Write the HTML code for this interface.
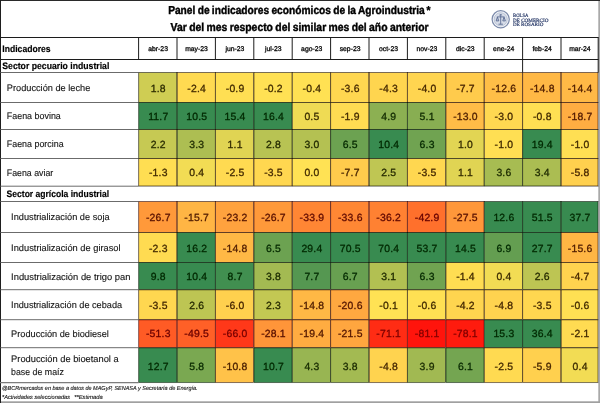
<!DOCTYPE html>
<html lang="es"><head><meta charset="utf-8">
<title>Panel de indicadores económicos de la Agroindustria</title>
<style>
html,body{margin:0;padding:0;background:#fff;}
body{width:600px;height:403px;overflow:hidden;}
svg{display:block;}
text{font-family:"Liberation Sans",sans-serif;text-rendering:geometricPrecision;}
.t{font-weight:bold;font-size:11.5px;fill:#000;text-anchor:middle;stroke:#000;stroke-width:.4px;word-spacing:-.6px;}
.m{font-size:6.8px;fill:#0a0a0a;text-anchor:middle;stroke:#0a0a0a;stroke-width:.3px;}
.n{font-size:10.4px;letter-spacing:.2px;text-anchor:middle;stroke-width:.3px;}
.l{font-size:9.3px;fill:#141414;stroke:#141414;stroke-width:.12px;}
.b{font-size:9.4px;font-weight:bold;fill:#000;stroke:#000;stroke-width:.16px;}
.f{font-size:5.8px;font-style:italic;fill:#151515;stroke:#151515;stroke-width:.12px;}
.g{font-family:"Liberation Serif",serif;font-size:5px;fill:#2c3d6b;stroke:#2c3d6b;stroke-width:.2px;}
</style></head><body>
<svg width="600" height="403" viewBox="0 0 600 403">
<rect x="0" y="0" width="600" height="403" fill="#ffffff"/>
<rect x="138.82" y="72.72" width="37.96" height="29.56" fill="#cfcd53" stroke="#242300" stroke-width="0.44"/>
<rect x="177.22" y="72.72" width="37.96" height="29.56" fill="#ffda51" stroke="#3b1f00" stroke-width="0.44"/>
<rect x="215.62" y="72.72" width="37.96" height="29.56" fill="#ffdf53" stroke="#392100" stroke-width="0.44"/>
<rect x="254.02" y="72.72" width="37.96" height="29.56" fill="#ffe154" stroke="#382200" stroke-width="0.44"/>
<rect x="292.42" y="72.72" width="37.96" height="29.56" fill="#ffe153" stroke="#382200" stroke-width="0.44"/>
<rect x="330.82" y="72.72" width="37.96" height="29.56" fill="#ffd750" stroke="#3c1e00" stroke-width="0.44"/>
<rect x="369.22" y="72.72" width="37.96" height="29.56" fill="#ffd54f" stroke="#3d1d00" stroke-width="0.44"/>
<rect x="407.62" y="72.72" width="37.96" height="29.56" fill="#ffd550" stroke="#3d1d00" stroke-width="0.44"/>
<rect x="446.02" y="72.72" width="37.96" height="29.56" fill="#ffcb4c" stroke="#411a00" stroke-width="0.44"/>
<rect x="484.42" y="72.72" width="37.96" height="29.56" fill="#ffbe47" stroke="#461500" stroke-width="0.44"/>
<rect x="522.82" y="72.72" width="37.96" height="29.56" fill="#ffb845" stroke="#481300" stroke-width="0.44"/>
<rect x="561.22" y="72.72" width="36.76" height="29.56" fill="#ffb946" stroke="#481300" stroke-width="0.44"/>
<rect x="138.82" y="102.72" width="37.96" height="26.56" fill="#388b50" stroke="#002600" stroke-width="0.44"/>
<rect x="177.22" y="102.72" width="37.96" height="26.56" fill="#388b50" stroke="#002600" stroke-width="0.44"/>
<rect x="215.62" y="102.72" width="37.96" height="26.56" fill="#388b50" stroke="#002600" stroke-width="0.44"/>
<rect x="254.02" y="102.72" width="37.96" height="26.56" fill="#388b50" stroke="#002600" stroke-width="0.44"/>
<rect x="292.42" y="102.72" width="37.96" height="26.56" fill="#efdb54" stroke="#312200" stroke-width="0.44"/>
<rect x="330.82" y="102.72" width="37.96" height="26.56" fill="#ffdc52" stroke="#3a2000" stroke-width="0.44"/>
<rect x="369.22" y="102.72" width="37.96" height="26.56" fill="#8cb052" stroke="#092400" stroke-width="0.44"/>
<rect x="407.62" y="102.72" width="37.96" height="26.56" fill="#88ae52" stroke="#082400" stroke-width="0.44"/>
<rect x="446.02" y="102.72" width="37.96" height="26.56" fill="#ffbc47" stroke="#471400" stroke-width="0.44"/>
<rect x="484.42" y="102.72" width="37.96" height="26.56" fill="#ffd851" stroke="#3c1e00" stroke-width="0.44"/>
<rect x="522.82" y="102.72" width="37.96" height="26.56" fill="#ffdf53" stroke="#392100" stroke-width="0.44"/>
<rect x="561.22" y="102.72" width="36.76" height="26.56" fill="#ffad42" stroke="#4c0f00" stroke-width="0.44"/>
<rect x="138.82" y="129.72" width="37.96" height="28.56" fill="#c6c953" stroke="#212300" stroke-width="0.44"/>
<rect x="177.22" y="129.72" width="37.96" height="28.56" fill="#adbe52" stroke="#172300" stroke-width="0.44"/>
<rect x="215.62" y="129.72" width="37.96" height="28.56" fill="#e0d453" stroke="#2b2200" stroke-width="0.44"/>
<rect x="254.02" y="129.72" width="37.96" height="28.56" fill="#b8c353" stroke="#1b2300" stroke-width="0.44"/>
<rect x="292.42" y="129.72" width="37.96" height="28.56" fill="#b4c152" stroke="#1a2300" stroke-width="0.44"/>
<rect x="330.82" y="129.72" width="37.96" height="28.56" fill="#6ca251" stroke="#002500" stroke-width="0.44"/>
<rect x="369.22" y="129.72" width="37.96" height="28.56" fill="#388b50" stroke="#002600" stroke-width="0.44"/>
<rect x="407.62" y="129.72" width="37.96" height="28.56" fill="#70a351" stroke="#002400" stroke-width="0.44"/>
<rect x="446.02" y="129.72" width="37.96" height="28.56" fill="#e2d553" stroke="#2c2200" stroke-width="0.44"/>
<rect x="484.42" y="129.72" width="37.96" height="28.56" fill="#ffdf53" stroke="#392100" stroke-width="0.44"/>
<rect x="522.82" y="129.72" width="37.96" height="28.56" fill="#388b50" stroke="#002600" stroke-width="0.44"/>
<rect x="561.22" y="129.72" width="36.76" height="28.56" fill="#ffdf53" stroke="#392100" stroke-width="0.44"/>
<rect x="138.82" y="158.72" width="37.96" height="27.26" fill="#ffde52" stroke="#392100" stroke-width="0.44"/>
<rect x="177.22" y="158.72" width="37.96" height="27.26" fill="#f2dc54" stroke="#332200" stroke-width="0.44"/>
<rect x="215.62" y="158.72" width="37.96" height="27.26" fill="#ffda51" stroke="#3b1f00" stroke-width="0.44"/>
<rect x="254.02" y="158.72" width="37.96" height="27.26" fill="#ffd750" stroke="#3c1e00" stroke-width="0.44"/>
<rect x="292.42" y="158.72" width="37.96" height="27.26" fill="#ffe254" stroke="#382200" stroke-width="0.44"/>
<rect x="330.82" y="158.72" width="37.96" height="27.26" fill="#ffcb4c" stroke="#411a00" stroke-width="0.44"/>
<rect x="369.22" y="158.72" width="37.96" height="27.26" fill="#bfc653" stroke="#1e2300" stroke-width="0.44"/>
<rect x="407.62" y="158.72" width="37.96" height="27.26" fill="#ffd750" stroke="#3c1e00" stroke-width="0.44"/>
<rect x="446.02" y="158.72" width="37.96" height="27.26" fill="#e0d453" stroke="#2b2200" stroke-width="0.44"/>
<rect x="484.42" y="158.72" width="37.96" height="27.26" fill="#a7bc52" stroke="#142400" stroke-width="0.44"/>
<rect x="522.82" y="158.72" width="37.96" height="27.26" fill="#abbd52" stroke="#162300" stroke-width="0.44"/>
<rect x="561.22" y="158.72" width="36.76" height="27.26" fill="#ffd04e" stroke="#3f1c00" stroke-width="0.44"/>
<rect x="138.82" y="201.72" width="37.96" height="30.56" fill="#ff993a" stroke="#540800" stroke-width="0.44"/>
<rect x="177.22" y="201.72" width="37.96" height="30.56" fill="#ffb544" stroke="#491200" stroke-width="0.44"/>
<rect x="215.62" y="201.72" width="37.96" height="30.56" fill="#ffa23e" stroke="#510b00" stroke-width="0.44"/>
<rect x="254.02" y="201.72" width="37.96" height="30.56" fill="#ff993a" stroke="#540800" stroke-width="0.44"/>
<rect x="292.42" y="201.72" width="37.96" height="30.56" fill="#ff8634" stroke="#5c0100" stroke-width="0.44"/>
<rect x="330.82" y="201.72" width="37.96" height="30.56" fill="#ff8734" stroke="#5b0100" stroke-width="0.44"/>
<rect x="369.22" y="201.72" width="37.96" height="30.56" fill="#ff8132" stroke="#5d0000" stroke-width="0.44"/>
<rect x="407.62" y="201.72" width="37.96" height="30.56" fill="#ff702c" stroke="#640000" stroke-width="0.44"/>
<rect x="446.02" y="201.72" width="37.96" height="30.56" fill="#ff973a" stroke="#550700" stroke-width="0.44"/>
<rect x="484.42" y="201.72" width="37.96" height="30.56" fill="#388b50" stroke="#002600" stroke-width="0.44"/>
<rect x="522.82" y="201.72" width="37.96" height="30.56" fill="#388b50" stroke="#002600" stroke-width="0.44"/>
<rect x="561.22" y="201.72" width="36.76" height="30.56" fill="#388b50" stroke="#002600" stroke-width="0.44"/>
<rect x="138.82" y="232.72" width="37.96" height="29.56" fill="#ffdb51" stroke="#3b2000" stroke-width="0.44"/>
<rect x="177.22" y="232.72" width="37.96" height="29.56" fill="#388b50" stroke="#002600" stroke-width="0.44"/>
<rect x="215.62" y="232.72" width="37.96" height="29.56" fill="#ffb845" stroke="#481300" stroke-width="0.44"/>
<rect x="254.02" y="232.72" width="37.96" height="29.56" fill="#6ca251" stroke="#002500" stroke-width="0.44"/>
<rect x="292.42" y="232.72" width="37.96" height="29.56" fill="#388b50" stroke="#002600" stroke-width="0.44"/>
<rect x="330.82" y="232.72" width="37.96" height="29.56" fill="#388b50" stroke="#002600" stroke-width="0.44"/>
<rect x="369.22" y="232.72" width="37.96" height="29.56" fill="#388b50" stroke="#002600" stroke-width="0.44"/>
<rect x="407.62" y="232.72" width="37.96" height="29.56" fill="#388b50" stroke="#002600" stroke-width="0.44"/>
<rect x="446.02" y="232.72" width="37.96" height="29.56" fill="#388b50" stroke="#002600" stroke-width="0.44"/>
<rect x="484.42" y="232.72" width="37.96" height="29.56" fill="#649e51" stroke="#002500" stroke-width="0.44"/>
<rect x="522.82" y="232.72" width="37.96" height="29.56" fill="#388b50" stroke="#002600" stroke-width="0.44"/>
<rect x="561.22" y="232.72" width="36.76" height="29.56" fill="#ffb644" stroke="#491200" stroke-width="0.44"/>
<rect x="138.82" y="262.72" width="37.96" height="26.76" fill="#388b50" stroke="#002600" stroke-width="0.44"/>
<rect x="177.22" y="262.72" width="37.96" height="26.76" fill="#388b50" stroke="#002600" stroke-width="0.44"/>
<rect x="215.62" y="262.72" width="37.96" height="26.76" fill="#418f50" stroke="#002500" stroke-width="0.44"/>
<rect x="254.02" y="262.72" width="37.96" height="26.76" fill="#a3ba52" stroke="#132400" stroke-width="0.44"/>
<rect x="292.42" y="262.72" width="37.96" height="26.76" fill="#559751" stroke="#002500" stroke-width="0.44"/>
<rect x="330.82" y="262.72" width="37.96" height="26.76" fill="#68a051" stroke="#002500" stroke-width="0.44"/>
<rect x="369.22" y="262.72" width="37.96" height="26.76" fill="#b2c052" stroke="#192300" stroke-width="0.44"/>
<rect x="407.62" y="262.72" width="37.96" height="26.76" fill="#70a351" stroke="#002400" stroke-width="0.44"/>
<rect x="446.02" y="262.72" width="37.96" height="26.76" fill="#ffdd52" stroke="#3a2000" stroke-width="0.44"/>
<rect x="484.42" y="262.72" width="37.96" height="26.76" fill="#f2dc54" stroke="#332200" stroke-width="0.44"/>
<rect x="522.82" y="262.72" width="37.96" height="26.76" fill="#bdc553" stroke="#1d2300" stroke-width="0.44"/>
<rect x="561.22" y="262.72" width="36.76" height="26.76" fill="#ffd34f" stroke="#3e1d00" stroke-width="0.44"/>
<rect x="138.82" y="289.92" width="37.96" height="29.56" fill="#ffd750" stroke="#3c1e00" stroke-width="0.44"/>
<rect x="177.22" y="289.92" width="37.96" height="29.56" fill="#bdc553" stroke="#1d2300" stroke-width="0.44"/>
<rect x="215.62" y="289.92" width="37.96" height="29.56" fill="#ffd04e" stroke="#3f1c00" stroke-width="0.44"/>
<rect x="254.02" y="289.92" width="37.96" height="29.56" fill="#c3c853" stroke="#1f2300" stroke-width="0.44"/>
<rect x="292.42" y="289.92" width="37.96" height="29.56" fill="#ffb845" stroke="#481300" stroke-width="0.44"/>
<rect x="330.82" y="289.92" width="37.96" height="29.56" fill="#ffa840" stroke="#4e0d00" stroke-width="0.44"/>
<rect x="369.22" y="289.92" width="37.96" height="29.56" fill="#ffe254" stroke="#382200" stroke-width="0.44"/>
<rect x="407.62" y="289.92" width="37.96" height="29.56" fill="#ffe053" stroke="#392100" stroke-width="0.44"/>
<rect x="446.02" y="289.92" width="37.96" height="29.56" fill="#ffd54f" stroke="#3d1d00" stroke-width="0.44"/>
<rect x="484.42" y="289.92" width="37.96" height="29.56" fill="#ffd34f" stroke="#3e1d00" stroke-width="0.44"/>
<rect x="522.82" y="289.92" width="37.96" height="29.56" fill="#ffd750" stroke="#3c1e00" stroke-width="0.44"/>
<rect x="561.22" y="289.92" width="36.76" height="29.56" fill="#ffe053" stroke="#392100" stroke-width="0.44"/>
<rect x="138.82" y="319.92" width="37.96" height="27.56" fill="#ff5b25" stroke="#6c0000" stroke-width="0.44"/>
<rect x="177.22" y="319.92" width="37.96" height="27.56" fill="#ff6027" stroke="#6a0000" stroke-width="0.44"/>
<rect x="215.62" y="319.92" width="37.96" height="27.56" fill="#ff3819" stroke="#7a0000" stroke-width="0.44"/>
<rect x="254.02" y="319.92" width="37.96" height="27.56" fill="#ff9539" stroke="#560600" stroke-width="0.44"/>
<rect x="292.42" y="319.92" width="37.96" height="27.56" fill="#ffac41" stroke="#4d0f00" stroke-width="0.44"/>
<rect x="330.82" y="319.92" width="37.96" height="27.56" fill="#ffa63f" stroke="#4f0c00" stroke-width="0.44"/>
<rect x="369.22" y="319.92" width="37.96" height="27.56" fill="#ff2c14" stroke="#7f0000" stroke-width="0.44"/>
<rect x="407.62" y="319.92" width="37.96" height="27.56" fill="#ff140c" stroke="#880000" stroke-width="0.44"/>
<rect x="446.02" y="319.92" width="37.96" height="27.56" fill="#ff1b0e" stroke="#850000" stroke-width="0.44"/>
<rect x="484.42" y="319.92" width="37.96" height="27.56" fill="#388b50" stroke="#002600" stroke-width="0.44"/>
<rect x="522.82" y="319.92" width="37.96" height="27.56" fill="#388b50" stroke="#002600" stroke-width="0.44"/>
<rect x="561.22" y="319.92" width="36.76" height="27.56" fill="#ffdb52" stroke="#3a1f00" stroke-width="0.44"/>
<rect x="138.82" y="347.92" width="37.96" height="34.46" fill="#388b50" stroke="#002600" stroke-width="0.44"/>
<rect x="177.22" y="347.92" width="37.96" height="34.46" fill="#7aa851" stroke="#022500" stroke-width="0.44"/>
<rect x="215.62" y="347.92" width="37.96" height="34.46" fill="#ffc249" stroke="#441600" stroke-width="0.44"/>
<rect x="254.02" y="347.92" width="37.96" height="34.46" fill="#388b50" stroke="#002600" stroke-width="0.44"/>
<rect x="292.42" y="347.92" width="37.96" height="34.46" fill="#98b552" stroke="#0e2400" stroke-width="0.44"/>
<rect x="330.82" y="347.92" width="37.96" height="34.46" fill="#a3ba52" stroke="#132400" stroke-width="0.44"/>
<rect x="369.22" y="347.92" width="37.96" height="34.46" fill="#ffd34f" stroke="#3e1d00" stroke-width="0.44"/>
<rect x="407.62" y="347.92" width="37.96" height="34.46" fill="#a1b952" stroke="#122400" stroke-width="0.44"/>
<rect x="446.02" y="347.92" width="37.96" height="34.46" fill="#74a551" stroke="#002400" stroke-width="0.44"/>
<rect x="484.42" y="347.92" width="37.96" height="34.46" fill="#ffda51" stroke="#3b1f00" stroke-width="0.44"/>
<rect x="522.82" y="347.92" width="37.96" height="34.46" fill="#ffd04e" stroke="#3f1c00" stroke-width="0.44"/>
<rect x="561.22" y="347.92" width="36.76" height="34.46" fill="#f2dc54" stroke="#332200" stroke-width="0.44"/>
<g fill="none" shape-rendering="auto">
<path d="M0 0.5H600" stroke="#2a2a2a" stroke-width="1"/>
<path d="M0.5 0V403" stroke="#1e1e1e" stroke-width="1"/>
<rect x="598.3" y="1" width="1.7" height="402" fill="#a9a9a9" stroke="none"/>
<rect x="1" y="401.3" width="599" height="1.7" fill="#a0a0a0" stroke="none"/>
</g>
<path d="M0.00 37.50H598.70" stroke="#1c1c1c" stroke-width="1.0" fill="none"/>
<path d="M0.00 59.50H598.70" stroke="#1c1c1c" stroke-width="1.0" fill="none"/>
<path d="M0.00 72.50H138.60" stroke="#505050" stroke-width="0.85" fill="none"/>
<path d="M138.60 72.50H598.70" stroke="rgba(0,0,0,.4)" stroke-width="0.7" fill="none"/>
<path d="M0.00 102.50H138.60" stroke="#505050" stroke-width="0.85" fill="none"/>
<path d="M138.60 102.50H598.70" stroke="rgba(0,0,0,.45)" stroke-width="0.7" fill="none"/>
<path d="M0.00 129.50H138.60" stroke="#505050" stroke-width="0.85" fill="none"/>
<path d="M138.60 129.50H598.70" stroke="rgba(0,0,0,.45)" stroke-width="0.7" fill="none"/>
<path d="M0.00 158.50H138.60" stroke="#505050" stroke-width="0.85" fill="none"/>
<path d="M138.60 158.50H598.70" stroke="rgba(0,0,0,.45)" stroke-width="0.7" fill="none"/>
<path d="M0.00 186.20H138.60" stroke="#505050" stroke-width="0.85" fill="none"/>
<path d="M138.60 186.20H598.70" stroke="rgba(0,0,0,.45)" stroke-width="0.7" fill="none"/>
<path d="M0.00 201.50H138.60" stroke="#505050" stroke-width="0.85" fill="none"/>
<path d="M138.60 201.50H598.70" stroke="rgba(0,0,0,.4)" stroke-width="0.7" fill="none"/>
<path d="M0.00 232.50H138.60" stroke="#505050" stroke-width="0.85" fill="none"/>
<path d="M138.60 232.50H598.70" stroke="rgba(0,0,0,.45)" stroke-width="0.7" fill="none"/>
<path d="M0.00 262.50H138.60" stroke="#505050" stroke-width="0.85" fill="none"/>
<path d="M138.60 262.50H598.70" stroke="rgba(0,0,0,.45)" stroke-width="0.7" fill="none"/>
<path d="M0.00 289.70H138.60" stroke="#505050" stroke-width="0.85" fill="none"/>
<path d="M138.60 289.70H598.70" stroke="rgba(0,0,0,.45)" stroke-width="0.7" fill="none"/>
<path d="M0.00 319.70H138.60" stroke="#505050" stroke-width="0.85" fill="none"/>
<path d="M138.60 319.70H598.70" stroke="rgba(0,0,0,.45)" stroke-width="0.7" fill="none"/>
<path d="M0.00 347.70H138.60" stroke="#505050" stroke-width="0.85" fill="none"/>
<path d="M138.60 347.70H598.70" stroke="rgba(0,0,0,.45)" stroke-width="0.7" fill="none"/>
<path d="M0.00 382.60H138.60" stroke="#7d7d7d" stroke-width="1.2" fill="none"/>
<path d="M138.60 382.60H598.70" stroke="rgba(0,0,0,.3)" stroke-width="0.7" fill="none"/>
<path d="M138.60 37.50V59.50" stroke="#1c1c1c" stroke-width="1.0" fill="none"/>
<path d="M177.00 37.50V59.50" stroke="#1c1c1c" stroke-width="1.0" fill="none"/>
<path d="M215.40 37.50V59.50" stroke="#1c1c1c" stroke-width="1.0" fill="none"/>
<path d="M253.80 37.50V59.50" stroke="#1c1c1c" stroke-width="1.0" fill="none"/>
<path d="M292.20 37.50V59.50" stroke="#1c1c1c" stroke-width="1.0" fill="none"/>
<path d="M330.60 37.50V59.50" stroke="#1c1c1c" stroke-width="1.0" fill="none"/>
<path d="M369.00 37.50V59.50" stroke="#1c1c1c" stroke-width="1.0" fill="none"/>
<path d="M407.40 37.50V59.50" stroke="#1c1c1c" stroke-width="1.0" fill="none"/>
<path d="M445.80 37.50V59.50" stroke="#1c1c1c" stroke-width="1.0" fill="none"/>
<path d="M484.20 37.50V59.50" stroke="#1c1c1c" stroke-width="1.0" fill="none"/>
<path d="M522.60 37.50V59.50" stroke="#1c1c1c" stroke-width="1.0" fill="none"/>
<path d="M561.00 37.50V59.50" stroke="#1c1c1c" stroke-width="1.0" fill="none"/>
<path d="M598.20 37.50V59.50" stroke="#1c1c1c" stroke-width="1.0" fill="none"/>
<path d="M522.60 59.50V72.50" stroke="#1c1c1c" stroke-width="1.0" fill="none"/>
<path d="M598.20 59.50V72.50" stroke="#1c1c1c" stroke-width="1.0" fill="none"/>
<path d="M138.60 72.50V186.20" stroke="rgba(0,0,0,.35)" stroke-width="0.7" fill="none"/>
<path d="M138.60 201.50V382.60" stroke="rgba(0,0,0,.35)" stroke-width="0.7" fill="none"/>
<path d="M177.00 72.50V186.20" stroke="rgba(0,0,0,.35)" stroke-width="0.7" fill="none"/>
<path d="M177.00 201.50V382.60" stroke="rgba(0,0,0,.35)" stroke-width="0.7" fill="none"/>
<path d="M215.40 72.50V186.20" stroke="rgba(0,0,0,.35)" stroke-width="0.7" fill="none"/>
<path d="M215.40 201.50V382.60" stroke="rgba(0,0,0,.35)" stroke-width="0.7" fill="none"/>
<path d="M253.80 72.50V186.20" stroke="rgba(0,0,0,.35)" stroke-width="0.7" fill="none"/>
<path d="M253.80 201.50V382.60" stroke="rgba(0,0,0,.35)" stroke-width="0.7" fill="none"/>
<path d="M292.20 72.50V186.20" stroke="rgba(0,0,0,.35)" stroke-width="0.7" fill="none"/>
<path d="M292.20 201.50V382.60" stroke="rgba(0,0,0,.35)" stroke-width="0.7" fill="none"/>
<path d="M330.60 72.50V186.20" stroke="rgba(0,0,0,.35)" stroke-width="0.7" fill="none"/>
<path d="M330.60 201.50V382.60" stroke="rgba(0,0,0,.35)" stroke-width="0.7" fill="none"/>
<path d="M369.00 72.50V186.20" stroke="rgba(0,0,0,.35)" stroke-width="0.7" fill="none"/>
<path d="M369.00 201.50V382.60" stroke="rgba(0,0,0,.35)" stroke-width="0.7" fill="none"/>
<path d="M407.40 72.50V186.20" stroke="rgba(0,0,0,.35)" stroke-width="0.7" fill="none"/>
<path d="M407.40 201.50V382.60" stroke="rgba(0,0,0,.35)" stroke-width="0.7" fill="none"/>
<path d="M445.80 72.50V186.20" stroke="rgba(0,0,0,.35)" stroke-width="0.7" fill="none"/>
<path d="M445.80 201.50V382.60" stroke="rgba(0,0,0,.35)" stroke-width="0.7" fill="none"/>
<path d="M484.20 72.50V186.20" stroke="rgba(0,0,0,.35)" stroke-width="0.7" fill="none"/>
<path d="M484.20 201.50V382.60" stroke="rgba(0,0,0,.35)" stroke-width="0.7" fill="none"/>
<path d="M522.60 72.50V186.20" stroke="rgba(0,0,0,.35)" stroke-width="0.7" fill="none"/>
<path d="M522.60 201.50V382.60" stroke="rgba(0,0,0,.35)" stroke-width="0.7" fill="none"/>
<path d="M561.00 72.50V186.20" stroke="rgba(0,0,0,.35)" stroke-width="0.7" fill="none"/>
<path d="M561.00 201.50V382.60" stroke="rgba(0,0,0,.35)" stroke-width="0.7" fill="none"/>
<path d="M598.20 72.50V186.20" stroke="rgba(0,0,0,.35)" stroke-width="0.7" fill="none"/>
<path d="M598.20 201.50V382.60" stroke="rgba(0,0,0,.35)" stroke-width="0.7" fill="none"/>
<text class="t" x="299.30" y="14.00" textLength="262.3" lengthAdjust="spacingAndGlyphs">Panel de indicadores económicos de la Agroindustria<tspan dx="1.9">*</tspan></text>
<text class="t" x="299.60" y="31.20" textLength="258.0" lengthAdjust="spacingAndGlyphs">Var del mes respecto del similar mes del año anterior</text>
<g>
<circle cx="500.7" cy="19.3" r="8.6" fill="#f3f5f9" stroke="#7c8bab" stroke-width="1.2"/>
<circle cx="500.7" cy="19.3" r="6.6" fill="#d6dce8" stroke="#a9b4ca" stroke-width="0.7"/>
<path d="M500.7 14.4V24.4M496.9 16.9H504.5M497.4 17.1L496.2 20.9H498.8ZM504 17.1L502.8 20.9H505.4ZM498.5 24.2H502.9M499.3 15.3C499.9 14.4 501.5 14.4 502.1 15.3" stroke="#5c6d94" stroke-width="0.9" fill="#c5cede"/>
</g>
<text class="g" x="513.00" y="17.20" textLength="15.4" lengthAdjust="spacingAndGlyphs">BOLSA</text>
<text class="g" x="513.00" y="21.90" textLength="35.4" lengthAdjust="spacingAndGlyphs">DE COMERCIO</text>
<text class="g" x="513.00" y="26.10" textLength="30.3" lengthAdjust="spacingAndGlyphs">DE ROSARIO</text>
<text class="b" x="2.30" y="51.70" textLength="48.3" lengthAdjust="spacingAndGlyphs">Indicadores</text>
<text class="m" x="158.10" y="51.30">abr-23</text>
<text class="m" x="196.50" y="51.30">may-23</text>
<text class="m" x="234.90" y="51.30">jun-23</text>
<text class="m" x="273.30" y="51.30">jul-23</text>
<text class="m" x="311.70" y="51.30">ago-23</text>
<text class="m" x="350.10" y="51.30">sep-23</text>
<text class="m" x="388.50" y="51.30">oct-23</text>
<text class="m" x="426.90" y="51.30">nov-23</text>
<text class="m" x="465.30" y="51.30">dic-23</text>
<text class="m" x="503.70" y="51.30">ene-24</text>
<text class="m" x="542.10" y="51.30">feb-24</text>
<text class="m" x="579.90" y="51.30">mar-24</text>
<text class="b" x="2.30" y="68.80" textLength="107.0" lengthAdjust="spacingAndGlyphs">Sector pecuario industrial</text>
<text class="b" x="6.60" y="197.00" textLength="102.5" lengthAdjust="spacingAndGlyphs">Sector agrícola industrial</text>
<text class="l" x="6.80" y="90.95" textLength="83.5" lengthAdjust="spacingAndGlyphs">Producción de leche</text>
<text class="n" x="158.30" y="91.52" fill="#2d2c00" stroke="#2d2c00">1.8</text>
<text class="n" x="196.70" y="91.52" fill="#432a00" stroke="#432a00">-2.4</text>
<text class="n" x="235.10" y="91.52" fill="#422b00" stroke="#422b00">-0.9</text>
<text class="n" x="273.50" y="91.52" fill="#412c00" stroke="#412c00">-0.2</text>
<text class="n" x="311.90" y="91.52" fill="#412c00" stroke="#412c00">-0.4</text>
<text class="n" x="350.30" y="91.52" fill="#442800" stroke="#442800">-3.6</text>
<text class="n" x="388.70" y="91.52" fill="#452800" stroke="#452800">-4.3</text>
<text class="n" x="427.10" y="91.52" fill="#452800" stroke="#452800">-4.0</text>
<text class="n" x="465.50" y="91.52" fill="#482400" stroke="#482400">-7.7</text>
<text class="n" x="503.90" y="91.52" fill="#4d1f00" stroke="#4d1f00">-12.6</text>
<text class="n" x="542.30" y="91.52" fill="#4f1d00" stroke="#4f1d00">-14.8</text>
<text class="n" x="580.10" y="91.52" fill="#4e1d00" stroke="#4e1d00">-14.4</text>
<text class="l" x="6.80" y="119.45" textLength="54.0" lengthAdjust="spacingAndGlyphs">Faena bovina</text>
<text class="n" x="158.30" y="119.60" fill="#002900" stroke="#002900">11.7</text>
<text class="n" x="196.70" y="119.60" fill="#002900" stroke="#002900">10.5</text>
<text class="n" x="235.10" y="119.60" fill="#002900" stroke="#002900">15.4</text>
<text class="n" x="273.50" y="119.60" fill="#002900" stroke="#002900">16.4</text>
<text class="n" x="311.90" y="119.60" fill="#3a2c00" stroke="#3a2c00">0.5</text>
<text class="n" x="350.30" y="119.60" fill="#432a00" stroke="#432a00">-1.9</text>
<text class="n" x="388.70" y="119.60" fill="#122b00" stroke="#122b00">4.9</text>
<text class="n" x="427.10" y="119.60" fill="#102b00" stroke="#102b00">5.1</text>
<text class="n" x="465.50" y="119.60" fill="#4d1e00" stroke="#4d1e00">-13.0</text>
<text class="n" x="503.90" y="119.60" fill="#442900" stroke="#442900">-3.0</text>
<text class="n" x="542.30" y="119.60" fill="#422b00" stroke="#422b00">-0.8</text>
<text class="n" x="580.10" y="119.60" fill="#521900" stroke="#521900">-18.7</text>
<text class="l" x="6.80" y="147.45" textLength="56.8" lengthAdjust="spacingAndGlyphs">Faena porcina</text>
<text class="n" x="158.30" y="147.88" fill="#2a2c00" stroke="#2a2c00">2.2</text>
<text class="n" x="196.70" y="147.88" fill="#1f2b00" stroke="#1f2b00">3.3</text>
<text class="n" x="235.10" y="147.88" fill="#342c00" stroke="#342c00">1.1</text>
<text class="n" x="273.50" y="147.88" fill="#242b00" stroke="#242b00">2.8</text>
<text class="n" x="311.90" y="147.88" fill="#222b00" stroke="#222b00">3.0</text>
<text class="n" x="350.30" y="147.88" fill="#052a00" stroke="#052a00">6.5</text>
<text class="n" x="388.70" y="147.88" fill="#002900" stroke="#002900">10.4</text>
<text class="n" x="427.10" y="147.88" fill="#062a00" stroke="#062a00">6.3</text>
<text class="n" x="465.50" y="147.88" fill="#352c00" stroke="#352c00">1.0</text>
<text class="n" x="503.90" y="147.88" fill="#422b00" stroke="#422b00">-1.0</text>
<text class="n" x="542.30" y="147.88" fill="#002900" stroke="#002900">19.4</text>
<text class="n" x="580.10" y="147.88" fill="#422b00" stroke="#422b00">-1.0</text>
<text class="l" x="6.80" y="175.80" textLength="46.5" lengthAdjust="spacingAndGlyphs">Faena aviar</text>
<text class="n" x="158.30" y="176.05" fill="#422b00" stroke="#422b00">-1.3</text>
<text class="n" x="196.70" y="176.05" fill="#3c2c00" stroke="#3c2c00">0.4</text>
<text class="n" x="235.10" y="176.05" fill="#432a00" stroke="#432a00">-2.5</text>
<text class="n" x="273.50" y="176.05" fill="#442800" stroke="#442800">-3.5</text>
<text class="n" x="311.90" y="176.05" fill="#412d00" stroke="#412d00">0.0</text>
<text class="n" x="350.30" y="176.05" fill="#482400" stroke="#482400">-7.7</text>
<text class="n" x="388.70" y="176.05" fill="#272c00" stroke="#272c00">2.5</text>
<text class="n" x="427.10" y="176.05" fill="#442800" stroke="#442800">-3.5</text>
<text class="n" x="465.50" y="176.05" fill="#342c00" stroke="#342c00">1.1</text>
<text class="n" x="503.90" y="176.05" fill="#1d2b00" stroke="#1d2b00">3.6</text>
<text class="n" x="542.30" y="176.05" fill="#1f2b00" stroke="#1f2b00">3.4</text>
<text class="n" x="580.10" y="176.05" fill="#472600" stroke="#472600">-5.8</text>
<text class="l" x="11.10" y="220.45" textLength="98.5" lengthAdjust="spacingAndGlyphs">Industrialización de soja</text>
<text class="n" x="158.30" y="221.16" fill="#591100" stroke="#591100">-26.7</text>
<text class="n" x="196.70" y="221.16" fill="#501c00" stroke="#501c00">-15.7</text>
<text class="n" x="235.10" y="221.16" fill="#561500" stroke="#561500">-23.2</text>
<text class="n" x="273.50" y="221.16" fill="#591100" stroke="#591100">-26.7</text>
<text class="n" x="311.90" y="221.16" fill="#5f0a00" stroke="#5f0a00">-33.9</text>
<text class="n" x="350.30" y="221.16" fill="#5f0b00" stroke="#5f0b00">-33.6</text>
<text class="n" x="388.70" y="221.16" fill="#600800" stroke="#600800">-36.2</text>
<text class="n" x="427.10" y="221.16" fill="#660200" stroke="#660200">-42.9</text>
<text class="n" x="465.50" y="221.16" fill="#591100" stroke="#591100">-27.5</text>
<text class="n" x="503.90" y="221.16" fill="#002900" stroke="#002900">12.6</text>
<text class="n" x="542.30" y="221.16" fill="#002900" stroke="#002900">51.5</text>
<text class="n" x="580.10" y="221.16" fill="#002900" stroke="#002900">37.7</text>
<text class="l" x="11.10" y="250.95" textLength="109.5" lengthAdjust="spacingAndGlyphs">Industrialización de girasol</text>
<text class="n" x="158.30" y="251.52" fill="#432a00" stroke="#432a00">-2.3</text>
<text class="n" x="196.70" y="251.52" fill="#002900" stroke="#002900">16.2</text>
<text class="n" x="235.10" y="251.52" fill="#4f1d00" stroke="#4f1d00">-14.8</text>
<text class="n" x="273.50" y="251.52" fill="#052a00" stroke="#052a00">6.5</text>
<text class="n" x="311.90" y="251.52" fill="#002900" stroke="#002900">29.4</text>
<text class="n" x="350.30" y="251.52" fill="#002900" stroke="#002900">70.5</text>
<text class="n" x="388.70" y="251.52" fill="#002900" stroke="#002900">70.4</text>
<text class="n" x="427.10" y="251.52" fill="#002900" stroke="#002900">53.7</text>
<text class="n" x="465.50" y="251.52" fill="#002900" stroke="#002900">14.5</text>
<text class="n" x="503.90" y="251.52" fill="#012a00" stroke="#012a00">6.9</text>
<text class="n" x="542.30" y="251.52" fill="#002900" stroke="#002900">27.7</text>
<text class="n" x="580.10" y="251.52" fill="#4f1c00" stroke="#4f1c00">-15.6</text>
<text class="l" x="11.10" y="279.55" textLength="119.3" lengthAdjust="spacingAndGlyphs">Industrialización de trigo pan</text>
<text class="n" x="158.30" y="279.73" fill="#002900" stroke="#002900">9.8</text>
<text class="n" x="196.70" y="279.73" fill="#002900" stroke="#002900">10.4</text>
<text class="n" x="235.10" y="279.73" fill="#002a00" stroke="#002a00">8.7</text>
<text class="n" x="273.50" y="279.73" fill="#1b2b00" stroke="#1b2b00">3.8</text>
<text class="n" x="311.90" y="279.73" fill="#002a00" stroke="#002a00">7.7</text>
<text class="n" x="350.30" y="279.73" fill="#032a00" stroke="#032a00">6.7</text>
<text class="n" x="388.70" y="279.73" fill="#212b00" stroke="#212b00">3.1</text>
<text class="n" x="427.10" y="279.73" fill="#062a00" stroke="#062a00">6.3</text>
<text class="n" x="465.50" y="279.73" fill="#432b00" stroke="#432b00">-1.4</text>
<text class="n" x="503.90" y="279.73" fill="#3c2c00" stroke="#3c2c00">0.4</text>
<text class="n" x="542.30" y="279.73" fill="#262b00" stroke="#262b00">2.6</text>
<text class="n" x="580.10" y="279.73" fill="#462700" stroke="#462700">-4.7</text>
<text class="l" x="11.10" y="308.15" textLength="111.0" lengthAdjust="spacingAndGlyphs">Industrialización de cebada</text>
<text class="n" x="158.30" y="308.72" fill="#442800" stroke="#442800">-3.5</text>
<text class="n" x="196.70" y="308.72" fill="#262b00" stroke="#262b00">2.6</text>
<text class="n" x="235.10" y="308.72" fill="#472600" stroke="#472600">-6.0</text>
<text class="n" x="273.50" y="308.72" fill="#282c00" stroke="#282c00">2.3</text>
<text class="n" x="311.90" y="308.72" fill="#4f1d00" stroke="#4f1d00">-14.8</text>
<text class="n" x="350.30" y="308.72" fill="#541700" stroke="#541700">-20.6</text>
<text class="n" x="388.70" y="308.72" fill="#412d00" stroke="#412d00">-0.1</text>
<text class="n" x="427.10" y="308.72" fill="#422c00" stroke="#422c00">-0.6</text>
<text class="n" x="465.50" y="308.72" fill="#452800" stroke="#452800">-4.2</text>
<text class="n" x="503.90" y="308.72" fill="#462700" stroke="#462700">-4.8</text>
<text class="n" x="542.30" y="308.72" fill="#442800" stroke="#442800">-3.5</text>
<text class="n" x="580.10" y="308.72" fill="#422c00" stroke="#422c00">-0.6</text>
<text class="l" x="11.10" y="337.15" textLength="97.8" lengthAdjust="spacingAndGlyphs">Producción de biodiesel</text>
<text class="n" x="158.30" y="337.44" fill="#6d0000" stroke="#6d0000">-51.3</text>
<text class="n" x="196.70" y="337.44" fill="#6b0000" stroke="#6b0000">-49.5</text>
<text class="n" x="235.10" y="337.44" fill="#780000" stroke="#780000">-66.0</text>
<text class="n" x="273.50" y="337.44" fill="#5a1000" stroke="#5a1000">-28.1</text>
<text class="n" x="311.90" y="337.44" fill="#521800" stroke="#521800">-19.4</text>
<text class="n" x="350.30" y="337.44" fill="#541600" stroke="#541600">-21.5</text>
<text class="n" x="388.70" y="337.44" fill="#7c0000" stroke="#7c0000">-71.1</text>
<text class="n" x="427.10" y="337.44" fill="#840000" stroke="#840000">-81.1</text>
<text class="n" x="465.50" y="337.44" fill="#820000" stroke="#820000">-78.1</text>
<text class="n" x="503.90" y="337.44" fill="#002900" stroke="#002900">15.3</text>
<text class="n" x="542.30" y="337.44" fill="#002900" stroke="#002900">36.4</text>
<text class="n" x="580.10" y="337.44" fill="#432a00" stroke="#432a00">-2.1</text>
<text class="l" x="11.10" y="361.85" textLength="107.6" lengthAdjust="spacingAndGlyphs">Producción de bioetanol a</text>
<text class="l" x="11.10" y="374.95" textLength="52.8" lengthAdjust="spacingAndGlyphs">base de maíz</text>
<text class="n" x="158.30" y="369.86" fill="#002900" stroke="#002900">12.7</text>
<text class="n" x="196.70" y="369.86" fill="#0a2b00" stroke="#0a2b00">5.8</text>
<text class="n" x="235.10" y="369.86" fill="#4b2100" stroke="#4b2100">-10.8</text>
<text class="n" x="273.50" y="369.86" fill="#002900" stroke="#002900">10.7</text>
<text class="n" x="311.90" y="369.86" fill="#172b00" stroke="#172b00">4.3</text>
<text class="n" x="350.30" y="369.86" fill="#1b2b00" stroke="#1b2b00">3.8</text>
<text class="n" x="388.70" y="369.86" fill="#462700" stroke="#462700">-4.8</text>
<text class="n" x="427.10" y="369.86" fill="#1a2b00" stroke="#1a2b00">3.9</text>
<text class="n" x="465.50" y="369.86" fill="#082a00" stroke="#082a00">6.1</text>
<text class="n" x="503.90" y="369.86" fill="#432a00" stroke="#432a00">-2.5</text>
<text class="n" x="542.30" y="369.86" fill="#472600" stroke="#472600">-5.9</text>
<text class="n" x="580.10" y="369.86" fill="#3c2c00" stroke="#3c2c00">0.4</text>
<text class="f" x="2.00" y="390.40" textLength="195.6" lengthAdjust="spacingAndGlyphs">@BCRmercados en base a datos de MAGyP, SENASA y Secretaría de Energía.</text>
<text class="f" x="2.00" y="398.80" textLength="68.0" lengthAdjust="spacingAndGlyphs">*Actividades seleccionadas</text>
<text class="f" x="74.30" y="398.80" textLength="28.4" lengthAdjust="spacingAndGlyphs">**Estimada</text>
</svg>
</body></html>
